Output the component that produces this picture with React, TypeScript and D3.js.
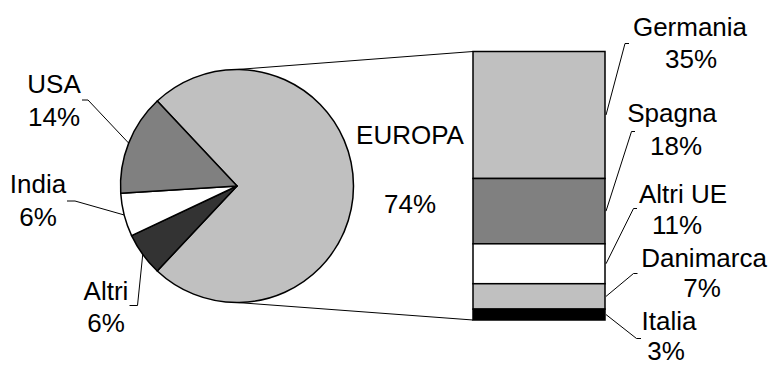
import React from "react";
import * as d3 from "d3";

const pieLabels = ["EUROPA", "Altri", "India", "USA"];
const pieValues = [74, 6, 6, 14];
const pieColors = ["#c0c0c0", "#333333", "#ffffff", "#808080"];

const barLabels = ["Germania", "Spagna", "Altri UE", "Danimarca", "Italia"];
const barValues = [35, 18, 11, 7, 3];
const barColors = ["#c0c0c0", "#808080", "#ffffff", "#c0c0c0", "#000000"];

const W = 775;
const H = 365;
const cx = 237;
const cy = 186;
const R = 116.5;
const barX0 = 473;
const barX1 = 605;
const barY0 = 51.5;
const barY1 = 320;
const FONT = "'Liberation Sans', Arial, sans-serif";
const FS = 25;
const SX = 1.04;

// label layout: [centerX, baseline1, baseline2]
const pieLabelPos: Record<string, [number, number, number]> = {
  EUROPA: [410, 144, 213],
  USA: [54, 93, 126],
  India: [38, 193, 226],
  Altri: [106, 300, 332],
};
// leader elbows for pie labels: [elbowX, elbowY, endX]
const pieLeader: Record<string, [number, number, number]> = {
  USA: [88, 100, 82],
  India: [75, 201, 67],
  Altri: [137.5, 305.5, 129.5],
};
const barLabelPos: [number, number, number, number][] = [
  [690, 36, 691, 68],
  [672, 122, 676, 155],
  [683, 203, 677, 234],
  [704, 267, 702, 297],
  [669, 330, 666, 360],
];
const barLeader: [number, number, number][] = [
  [625, 43.5, 629],
  [631.5, 131.5, 635],
  [633.5, 208.5, 637],
  [633.5, 273.5, 637.5],
  [636.5, 338.5, 641],
];

function T({ x, y, s }: { x: number; y: number; s: string }) {
  return (
    <text
      transform={`translate(${x},${y}) scale(${SX},1)`}
      textAnchor="middle"
      fontFamily={FONT}
      fontSize={FS}
      fill="#000"
    >
      {s}
    </text>
  );
}

export default function App() {
  const total = d3.sum(pieValues);
  const europeFrac = pieValues[0] / total;
  const start = Math.PI / 2 - europeFrac * Math.PI;
  const pie = d3
    .pie<number>()
    .sort(null)
    .startAngle(start)
    .endAngle(start + 2 * Math.PI)
    .value((d) => d);
  const arcs = pie(pieValues);
  const arc = d3.arc<d3.PieArcDatum<number>>().innerRadius(0).outerRadius(R);
  const edge = d3.arc<d3.PieArcDatum<number>>().innerRadius(R).outerRadius(R);

  const y = d3
    .scaleLinear()
    .domain([0, d3.sum(barValues)])
    .range([barY0, barY1]);
  const cum = barValues.map((_, i) => d3.sum(barValues.slice(0, i)));

  return (
    <svg
      width={W}
      height={H}
      style={{ position: "absolute", left: 0, top: 0, background: "#fff" }}
    >
      {/* connector lines */}
      <line x1={cx} y1={cy - R} x2={barX0} y2={barY0} stroke="#000" strokeWidth={1} />
      <line x1={cx} y1={cy + R} x2={barX0} y2={barY1} stroke="#000" strokeWidth={1} />
      {/* pie */}
      <g transform={`translate(${cx},${cy})`}>
        {arcs.map((a, i) => (
          <path
            key={i}
            d={arc(a) as string}
            fill={pieColors[i]}
            stroke="#000"
            strokeWidth={1.5}
            strokeLinejoin="round"
          />
        ))}
      </g>
      {/* pie leaders */}
      {arcs.map((a, i) => {
        const name = pieLabels[i];
        const L = pieLeader[name];
        if (!L) return null;
        const [ex, ey] = edge.centroid(a);
        return (
          <polyline
            key={"pl" + i}
            points={`${cx + ex},${cy + ey} ${L[0]},${L[1]} ${L[2]},${L[1]}`}
            fill="none"
            stroke="#000"
            strokeWidth={1}
          />
        );
      })}
      {/* bar */}
      {barValues.map((v, i) => (
        <rect
          key={"b" + i}
          x={barX0}
          y={y(cum[i])}
          width={barX1 - barX0}
          height={y(cum[i] + v) - y(cum[i])}
          fill={barColors[i]}
          stroke="#000"
          strokeWidth={1.5}
        />
      ))}
      {/* bar leaders */}
      {barValues.map((v, i) => {
        const my = y(cum[i] + v / 2);
        const L = barLeader[i];
        return (
          <polyline
            key={"bl" + i}
            points={`${barX1 + 1},${my} ${L[0]},${L[1]} ${L[2]},${L[1]}`}
            fill="none"
            stroke="#000"
            strokeWidth={1}
          />
        );
      })}
      {/* pie labels */}
      {pieLabels.map((name, i) => {
        const p = pieLabelPos[name];
        const pct = Math.round((pieValues[i] / total) * 100) + "%";
        return (
          <g key={"t" + i}>
            <T x={p[0]} y={p[1]} s={name} />
            <T x={p[0]} y={p[2]} s={pct} />
          </g>
        );
      })}
      {/* bar labels */}
      {barLabels.map((name, i) => {
        const p = barLabelPos[i];
        return (
          <g key={"bt" + i}>
            <T x={p[0]} y={p[1]} s={name} />
            <T x={p[2]} y={p[3]} s={barValues[i] + "%"} />
          </g>
        );
      })}
    </svg>
  );
}
